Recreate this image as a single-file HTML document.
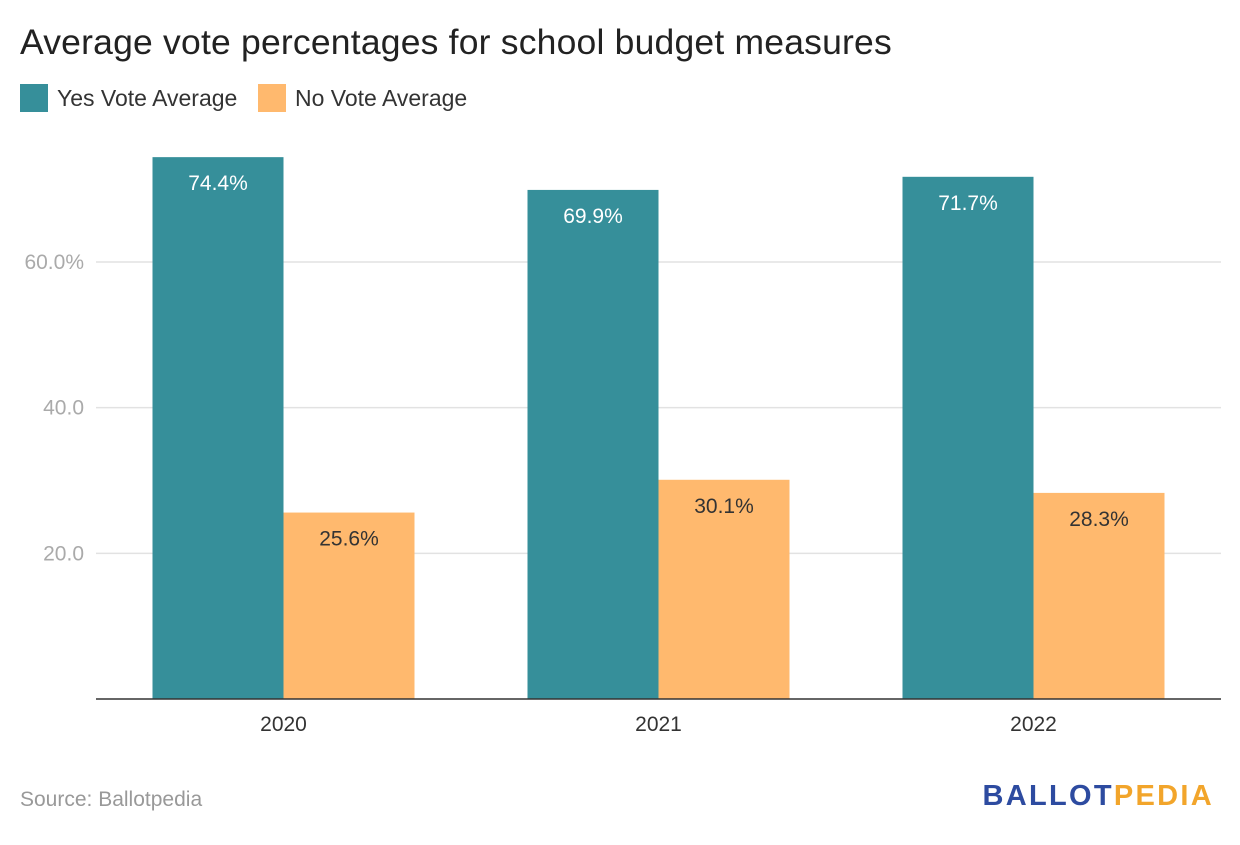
<!DOCTYPE html>
<html><head><meta charset="utf-8"><style>
body{margin:0;background:#fff;font-family:"Liberation Sans",sans-serif;}
</style></head><body>
<svg id="chart" width="1240" height="840" xmlns="http://www.w3.org/2000/svg">
<text x="20" y="54" font-size="35.5" letter-spacing="0.2" fill="#222">Average vote percentages for school budget measures</text>
<g>
<rect x="20" y="84" width="28" height="28" fill="#368f9a"/>
<text x="57" y="106" font-size="23" fill="#333">Yes Vote Average</text>
<rect x="258" y="84" width="28" height="28" fill="#ffb96e"/>
<text x="295" y="106" font-size="23" fill="#333">No Vote Average</text>
</g>
<g id="grid"></g><g id="bars"></g><g id="xaxis"></g>
<text x="20" y="806" font-size="21" fill="#999">Source: Ballotpedia</text>
<text x="1214" y="805" font-size="29" font-weight="bold" text-anchor="end" letter-spacing="2.3"><tspan fill="#2d4ba0">BALLOT</tspan><tspan fill="#f2a52b">PEDIA</tspan></text>
</svg>
<script>
const categories=["2020","2021","2022"];
const yesValues=[74.4,69.9,71.7];
const noValues=[25.6,30.1,28.3];
const yTicks=[20,40,60];
const yTickLabels=["20.0","40.0","60.0%"];
const NS="http://www.w3.org/2000/svg";
const x0=96,x1=1221,yBase=699,pxPerUnit=7.283;
const y=v=>yBase-v*pxPerUnit;
const band=(x1-x0)/categories.length,barW=131;
const cx=i=>x0+band*(i+0.5);
function mk(tag,attrs,parent,text){const e=document.createElementNS(NS,tag);for(const k in attrs)e.setAttribute(k,attrs[k]);if(text!==undefined)e.textContent=text;document.getElementById(parent).appendChild(e);return e;}
yTicks.forEach((t,i)=>{
 const l=mk("line",{x1:x0,x2:x1,y1:y(t),y2:y(t),stroke:"#e2e2e2","stroke-width":1.5},"grid");
 
 
 const tx=mk("text",{x:84,y:y(t)+7,"font-size":21,fill:"#aaa","text-anchor":"end"},"grid",yTickLabels[i]);
 
 
});
categories.forEach((c,i)=>{
 const yb=mk("rect",{x:cx(i)-barW,y:y(yesValues[i]),width:barW,height:yesValues[i]*pxPerUnit,fill:"#368f9a"},"bars");
 
 
 const nb=mk("rect",{x:cx(i),y:y(noValues[i]),width:barW,height:noValues[i]*pxPerUnit,fill:"#ffb96e"},"bars");
 
 
 const yl=mk("text",{x:cx(i)-barW/2,y:y(yesValues[i])+33,"font-size":21,fill:"#fff","text-anchor":"middle"},"bars",yesValues[i].toFixed(1)+"%");
 
 
 const nl=mk("text",{x:cx(i)+barW/2,y:y(noValues[i])+33,"font-size":21,fill:"#333","text-anchor":"middle"},"bars",noValues[i].toFixed(1)+"%");
 
 
 const xl=mk("text",{x:cx(i),y:731,"font-size":21,fill:"#333","text-anchor":"middle"},"xaxis",c);
 
 
});
const ax=mk("line",{x1:x0,x2:x1,y1:yBase,y2:yBase,stroke:"#333","stroke-width":1.5},"xaxis");


</script>
</body></html>
